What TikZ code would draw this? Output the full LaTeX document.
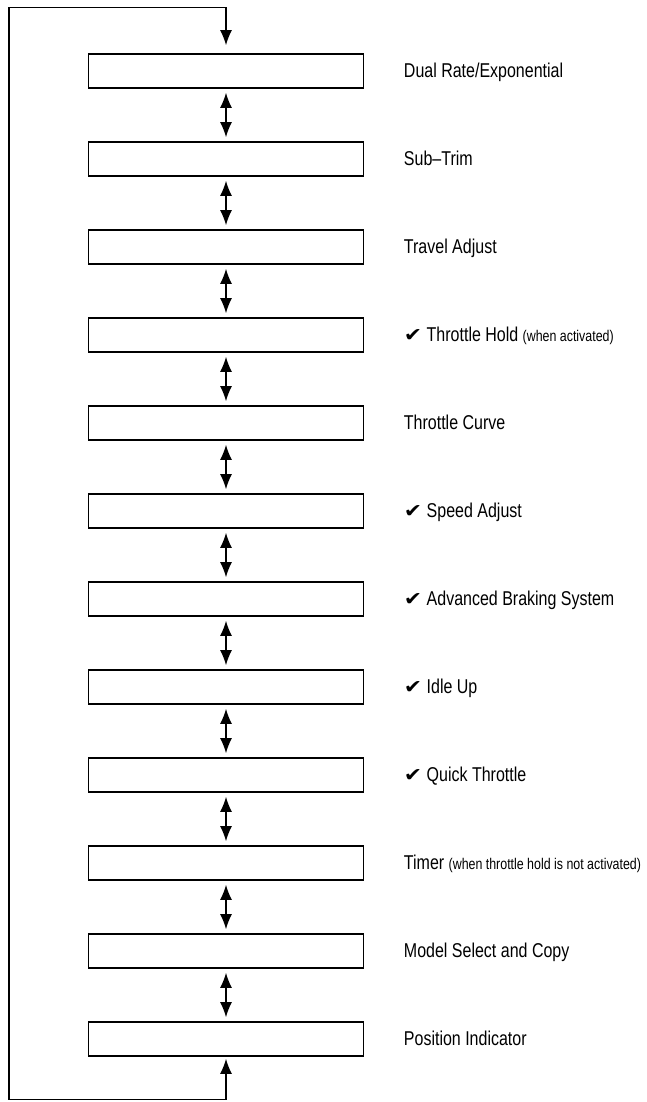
\documentclass[tikz,border=0pt]{standalone}
\usepackage{fontspec}
\setmainfont{Liberation Sans}[FakeStretch=0.8]
\newfontfamily\symfont{DejaVu Sans}[FakeStretch=1.15]
\usetikzlibrary{positioning, arrows.meta}
\tikzset{
  menu/.style = {draw, line width=1.6pt, minimum width=275pt,
    minimum height=34pt, inner sep=0pt},
  lbl/.style = {anchor=base west, inner sep=0pt,
    font=\fontsize{20}{24}\selectfont},
}
\newcommand{\smallnote}[1]{{\fontsize{15.5}{18}\selectfont #1}}
\newcommand{\chk}{{\symfont\fontsize{19}{24}\selectfont ✔}\ }

\begin{document}
\begin{tikzpicture}[x=1pt, y=1pt, line width=1.3pt,
    >={Latex[length=15pt,width=12pt]}, node distance = 88pt]
      \useasboundingbox (0,0) rectangle (647,-1102);

      % menu boxes
      \node[menu] (DR) at (226,-71) {};
      \node[menu] (ST) [below of = DR] {};
      \node[menu] (TA) [below of = ST] {};
      \node[menu] (TH) [below of = TA] {};
      \node[menu] (TC) [below of = TH] {};
      \node[menu] (SA) [below of = TC] {};
      \node[menu] (AB) [below of = SA] {};
      \node[menu] (IU) [below of = AB] {};
      \node[menu] (QT) [below of = IU] {};
      \node[menu] (TM) [below of = QT] {};
      \node[menu] (MS) [below of = TM] {};
      \node[menu] (PI) [below of = MS] {};

      % labels
      \node[lbl] (lDR) at ([xshift=39pt,yshift=-6.5pt]DR.east)
      {Dual Rate/Exponential};
      \node[lbl] (lST) at ([xshift=39pt,yshift=-6.5pt]ST.east)
      {Sub–Trim};
      \node[lbl] (lTA) at ([xshift=39pt,yshift=-6.5pt]TA.east)
      {Travel Adjust};
      \node[lbl] (lTH) at ([xshift=39pt,yshift=-6.5pt]TH.east)
      {\chk Throttle Hold \smallnote{(when activated)}};
      \node[lbl] (lTC) at ([xshift=39pt,yshift=-6.5pt]TC.east)
      {Throttle Curve};
      \node[lbl] (lSA) at ([xshift=39pt,yshift=-6.5pt]SA.east)
      {\chk Speed Adjust};
      \node[lbl] (lAB) at ([xshift=39pt,yshift=-6.5pt]AB.east)
      {\chk Advanced Braking System};
      \node[lbl] (lIU) at ([xshift=39pt,yshift=-6.5pt]IU.east)
      {\chk Idle Up};
      \node[lbl] (lQT) at ([xshift=39pt,yshift=-6.5pt]QT.east)
      {\chk Quick Throttle};
      \node[lbl] (lTM) at ([xshift=39pt,yshift=-6.5pt]TM.east)
      {Timer \smallnote{(when throttle hold is not activated)}};
      \node[lbl] (lMS) at ([xshift=39pt,yshift=-6.5pt]MS.east)
      {Model Select and Copy};
      \node[lbl] (lPI) at ([xshift=39pt,yshift=-6.5pt]PI.east)
      {Position Indicator};

      % up and down between boxes
      \path[<->, shorten <=4pt, shorten >=4pt]
      (DR) edge (ST)
      (ST) edge (TA)
      (TA) edge (TH)
      (TH) edge (TC)
      (TC) edge (SA)
      (SA) edge (AB)
      (AB) edge (IU)
      (IU) edge (QT)
      (QT) edge (TM)
      (TM) edge (MS)
      (MS) edge (PI)
      ;

      % wrap around
      \coordinate (lb) at ([yshift=-43pt]PI.south);
      \coordinate (lt) at ([yshift=46pt]DR.north);
      \draw[<->, shorten <=2pt, shorten >=8pt]
      (PI.south) -- (lb) -- ++(-217,0) |- (lt) -- (DR.north);
    \end{tikzpicture}
\end{document}
